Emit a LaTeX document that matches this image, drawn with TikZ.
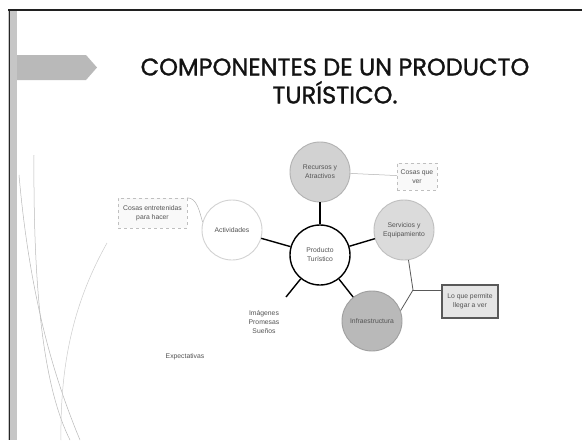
\documentclass[tikz,border=0pt]{standalone}
\usepackage{fontspec}
\setmainfont{Poppins}
\newfontfamily\titlefont[FakeBold=1.2]{Poppins}
\newfontfamily\smallfont{Liberation Sans}
\tikzset{
  comp/.style={circle,minimum size=60pt,inner sep=0pt,align=center,
    font=\smallfont\fontsize{6.8}{9}\selectfont,text=gray!65!black,line width=0.9pt},
  spoke/.style={line width=1.4pt,black},
  thinline/.style={line width=0.5pt,gray!60},
  midline/.style={line width=0.8pt,gray!70!black},
  notebox/.style={draw=gray!50,dashed,fill=gray!5,inner sep=0pt,align=center,
    font=\smallfont\fontsize{6.8}{9}\selectfont,text=gray!65!black},
  darkbox/.style={draw=gray!70!black,line width=1.3pt,fill=gray!20,inner sep=0pt,align=center,
    font=\smallfont\fontsize{6.8}{9}\selectfont,text=gray!65!black},
  plaintext/.style={align=center,inner sep=0pt,font=\smallfont\fontsize{6.8}{9}\selectfont,text=gray!65!black}
}
\begin{document}
\begin{tikzpicture}[x=1pt,y=-1pt]
  \useasboundingbox[fill=white] (0,0) rectangle (582,440);
  % slide frame
  \fill[gray!45] (8,10) rectangle (17,440);
  \draw[line width=1.6pt,gray!30!black] (9.5,10) -- (9.5,440);
  \draw[line width=1.2pt,gray!25!black] (8,10) -- (582,10);
  \fill[gray!55] (17,55) -- (86,55) -- (97,67.5) -- (86,80) -- (17,80) -- cycle;
  % left curves
  \draw[thinline,gray!55] (19,175) .. controls (30,300) and (55,380) .. (80,440);
  \draw[thinline,gray!55] (34,155) .. controls (33,300) and (45,390) .. (70,440);
  \draw[thinline,gray!40] (107,243) .. controls (75,300) and (60,360) .. (61,440);
  % title
  \node[font=\titlefont\fontsize{24}{28}\selectfont,align=center,text=gray!15!black] (title) at (335,81)
    {COMPONENTES DE UN PRODUCTO\\TURÍSTICO.};
  % components
  \node[comp,draw=black,line width=1.4pt,fill=white] (prod) at (320,255) {Producto\\Turístico};
  \node[comp,fill=gray!35,draw=gray!60] (rec) at (320,172) {Recursos y\\Atractivos};
  \node[comp,fill=gray!28,draw=gray!50] (serv) at (404,230) {Servicios y\\Equipamiento};
  \node[comp,fill=gray!55,draw=gray!75] (infra) at (372,321) {Infraestructura};
  \node[comp,fill=white,draw=gray!35] (act) at (232,230) {Actividades};
  \node[notebox,minimum width=40pt,minimum height=27pt] (ver) at (417,176.5) {Cosas que\\ver};
  \node[notebox,minimum width=69pt,minimum height=30pt] (hacer) at (152.5,213) {Cosas entretenidas\\para hacer};
  \node[darkbox,minimum width=56pt,minimum height=33pt] (llegar) at (470,301.5) {Lo que permite\\llegar a ver};
  \node[plaintext] (img) at (264,322) {Imágenes\\Promesas\\Sueños};
  \node[plaintext] (expect) at (185,357) {Expectativas};
  \coordinate (imgend) at (286,297);
  \coordinate (brk) at (413,290);
  % connectors
  \draw[spoke] (prod) -- (rec);
  \draw[spoke] (prod) -- (act);
  \draw[spoke] (prod) -- (serv);
  \draw[spoke] (prod) -- (infra);
  \draw[spoke] (prod) -- (imgend);
  \draw[thinline] (rec) -- (ver);
  \draw[thinline] (hacer.north east) .. controls +(10,0) and +(-3,-10) .. (act.165);
  \draw[midline] (serv) -- (brk) -- (infra.20);
  \draw[midline] (brk) -- (brk -| llegar.west);
\end{tikzpicture}
\end{document}
